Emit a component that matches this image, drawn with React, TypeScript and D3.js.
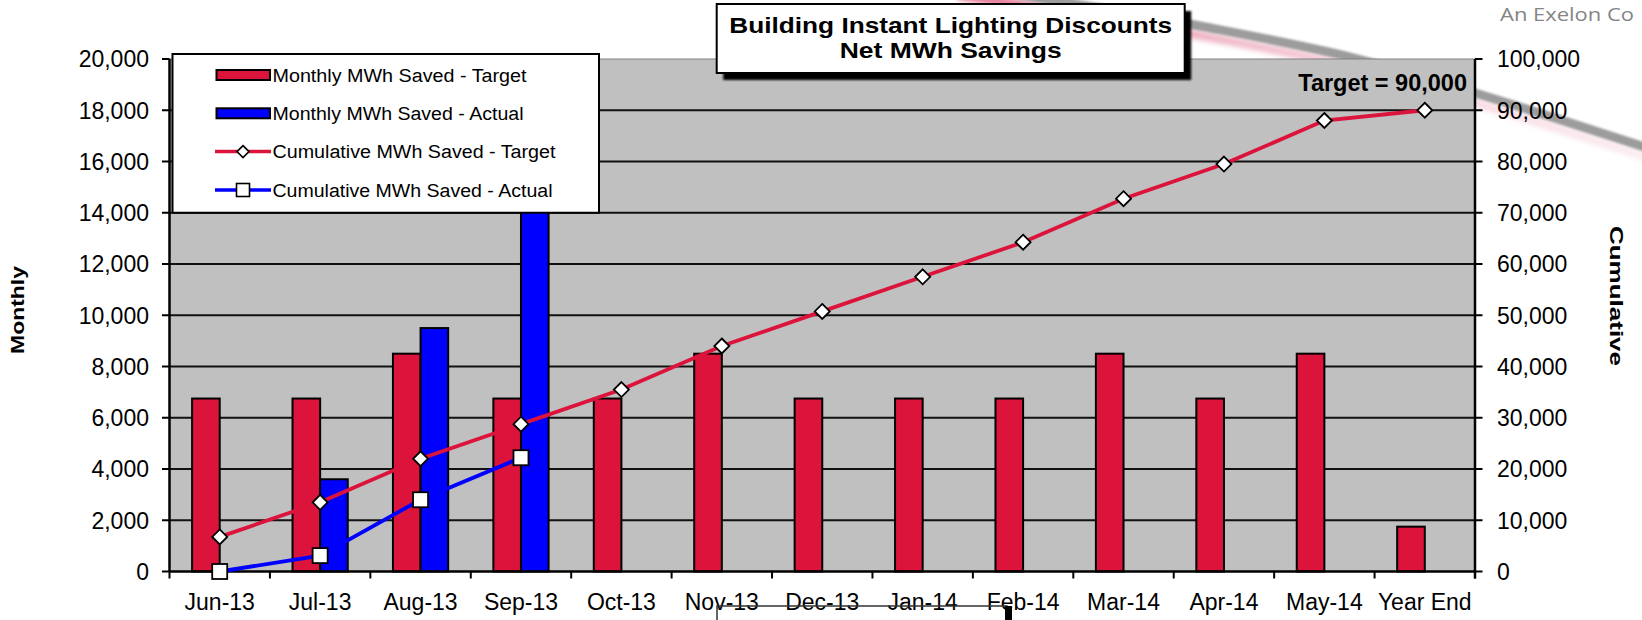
import React from 'react';
import * as d3 from 'd3';

const categories = ['Jun-13', 'Jul-13', 'Aug-13', 'Sep-13', 'Oct-13', 'Nov-13', 'Dec-13', 'Jan-14', 'Feb-14', 'Mar-14', 'Apr-14', 'May-14', 'Year End'];
const monthlyTarget = [6750, 6750, 8500, 6750, 6750, 8500, 6750, 6750, 6750, 8500, 6750, 8500, 1750];
const monthlyActual: (number | null)[] = [null, 3600, 9500, 16500, null, null, null, null, null, null, null, null, null];
const cumulativeTarget = [6750, 13500, 22000, 28750, 35500, 44000, 50750, 57500, 64250, 72750, 79500, 88000, 90000];
const cumulativeActual = [0, 3100, 14000, 22200];
const leftTicks = [0, 2000, 4000, 6000, 8000, 10000, 12000, 14000, 16000, 18000, 20000];
const rightTicks = [0, 10000, 20000, 30000, 40000, 50000, 60000, 70000, 80000, 90000, 100000];
const legendLabels = ['Monthly MWh Saved - Target', 'Monthly MWh Saved - Actual', 'Cumulative MWh Saved - Target', 'Cumulative MWh Saved - Actual'];
const legendWidths = [254, 251, 283, 280];
const titleLines = ['Building Instant Lighting Discounts', 'Net MWh Savings'];
const titleWidths = [443, 222];
const targetNote = 'Target = 90,000';

const FONT = "'Liberation Sans', Arial, Helvetica, sans-serif";
const RED = '#dc143c';
const BLUE = '#0000ff';

export default function App() {
  const W = 1642, H = 620;
  const left = 169.5, right = 1475, top = 59, bottom = 571.5;
  const x = d3.scaleBand<string>().domain(categories).range([left, right]);
  const bw = x.bandwidth();
  const groupW = bw * 0.55;
  const x1 = d3.scaleBand<string>().domain(['t', 'a']).range([(bw - groupW) / 2, (bw + groupW) / 2]);
  const yL = d3.scaleLinear().domain([0, 20000]).range([bottom, top]);
  const yR = d3.scaleLinear().domain([0, 100000]).range([bottom, top]);
  const cx = (i: number) => (x(categories[i]) as number) + bw / 2;

  const lineGen = d3.line<number>().x((_, i) => cx(i)).y((d) => yR(d));
  const fmt = d3.format(',');

  const swooshPts: [number, number][] = [[960, -14], [1100, 8], [1200, 26], [1350, 57], [1475, 93], [1660, 152]];
  const swoosh = d3.line().curve(d3.curveCatmullRom)(swooshPts) || '';
  const pinkPts: [number, number][] = swooshPts.map(([a, b]) => [a - 2, b + 9]);
  const pink = d3.line().curve(d3.curveCatmullRom)(pinkPts) || '';

  const boundaries = categories.map((c) => x(c) as number).concat([right]);

  const diamond = (px: number, py: number, r = 7.5) => `M${px},${py - r}L${px + r},${py}L${px},${py + r}L${px - r},${py}Z`;

  const legX = 172.5, legY = 54, legW = 426.5, legH = yL(14000) - 54;
  const rowY = [75, 113.3, 151.6, 190];

  return (
    <svg width={W} height={H} style={{ position: 'absolute', left: 0, top: 0, display: 'block', background: '#fff' }} fontFamily={FONT}>
      <defs>
        <filter id="blur1" x="-10%" y="-50%" width="120%" height="200%">
          <feGaussianBlur stdDeviation="1.2" />
        </filter>
        <filter id="blur2" x="-10%" y="-50%" width="120%" height="200%">
          <feGaussianBlur stdDeviation="2.5" />
        </filter>
        <linearGradient id="pinkGrad" x1="960" y1="0" x2="1642" y2="0" gradientUnits="userSpaceOnUse">
          <stop offset="0" stopColor="#e06080" stopOpacity="0.9" />
          <stop offset="0.4" stopColor="#e890a8" stopOpacity="0.6" />
          <stop offset="1" stopColor="#f4c8d4" stopOpacity="0.35" />
        </linearGradient>
      </defs>

      {/* background decoration */}
      <path d={pink} fill="none" stroke="url(#pinkGrad)" strokeWidth={9} filter="url(#blur2)" />
      <path d={swoosh} fill="none" stroke="#9c9c9c" strokeWidth={9} filter="url(#blur1)" />
      <text x={1500} y={21} fontFamily="'Open Sans', sans-serif" fontSize={18} textLength={134} lengthAdjust="spacingAndGlyphs" fill="#858585">An Exelon Co</text>

      {/* plot area */}
      <rect x={left} y={top} width={right - left} height={bottom - top} fill="#c0c0c0" />
      <line x1={left} x2={right} y1={top} y2={top} stroke="#808080" strokeWidth={1.2} />
      {leftTicks.filter((t) => t > 0 && t < 20000).map((t) => (
        <line key={'g' + t} x1={left} x2={right} y1={yL(t)} y2={yL(t)} stroke="#111" strokeWidth={2} />
      ))}

      {/* bars */}
      {monthlyTarget.map((v, i) => (
        <rect key={'bt' + i} x={(x(categories[i]) as number) + (x1('t') as number)} y={yL(v)} width={x1.bandwidth()} height={bottom - yL(v)} fill={RED} stroke="#000" strokeWidth={2} />
      ))}
      {monthlyActual.map((v, i) => v == null ? null : (
        <rect key={'ba' + i} x={(x(categories[i]) as number) + (x1('a') as number)} y={yL(v)} width={x1.bandwidth()} height={bottom - yL(v)} fill={BLUE} stroke="#000" strokeWidth={2} />
      ))}

      {/* axes */}
      <line x1={left} x2={left} y1={top} y2={bottom} stroke="#000" strokeWidth={2.5} />
      <line x1={right} x2={right} y1={top} y2={bottom + 7} stroke="#000" strokeWidth={2.5} />
      <line x1={left} x2={right} y1={bottom} y2={bottom} stroke="#000" strokeWidth={2.5} />
      {leftTicks.map((t) => (
        <g key={'lt' + t}>
          <line x1={left - 7.5} x2={left} y1={yL(t)} y2={yL(t)} stroke="#000" strokeWidth={2} />
          <text x={149} y={yL(t) + 8.3} textAnchor="end" fontSize={23} fill="#000">{fmt(t)}</text>
        </g>
      ))}
      {rightTicks.map((t) => (
        <g key={'rt' + t}>
          <line x1={right} x2={right + 7.5} y1={yR(t)} y2={yR(t)} stroke="#000" strokeWidth={2} />
          <text x={1497} y={yR(t) + 8.3} textAnchor="start" fontSize={23} fill="#000">{fmt(t)}</text>
        </g>
      ))}
      {boundaries.map((b, i) => (
        <line key={'bx' + i} x1={b} x2={b} y1={bottom} y2={bottom + 7} stroke="#000" strokeWidth={2} />
      ))}
      {categories.map((c, i) => (
        <text key={'xl' + c} x={cx(i)} y={610} textAnchor="middle" fontSize={23} fill="#000">{c}</text>
      ))}

      {/* lines */}
      <path d={lineGen(cumulativeTarget) || ''} fill="none" stroke={RED} strokeWidth={3.8} />
      <path d={lineGen(cumulativeActual) || ''} fill="none" stroke={BLUE} strokeWidth={3.8} />
      {cumulativeTarget.map((v, i) => (
        <path key={'md' + i} d={diamond(cx(i), yR(v))} fill="#fff" stroke="#000" strokeWidth={1.8} />
      ))}
      {cumulativeActual.map((v, i) => (
        <rect key={'ms' + i} x={cx(i) - 7.5} y={yR(v) - 7.5} width={15} height={15} fill="#fff" stroke="#000" strokeWidth={1.8} />
      ))}

      {/* legend */}
      <rect x={legX} y={legY} width={legW} height={legH} fill="#fff" stroke="#000" strokeWidth={2} />
      <rect x={216.5} y={rowY[0] - 5} width={53.5} height={10} fill={RED} stroke="#000" strokeWidth={2} />
      <rect x={216.5} y={rowY[1] - 5} width={53.5} height={10} fill={BLUE} stroke="#000" strokeWidth={2} />
      <line x1={215} x2={271} y1={rowY[2]} y2={rowY[2]} stroke={RED} strokeWidth={3.5} />
      <path d={diamond(243, rowY[2], 6)} fill="#fff" stroke="#000" strokeWidth={1.6} />
      <line x1={215} x2={271} y1={rowY[3]} y2={rowY[3]} stroke={BLUE} strokeWidth={3.5} />
      <rect x={243 - 6.5} y={rowY[3] - 6.5} width={13} height={13} fill="#fff" stroke="#000" strokeWidth={1.6} />
      {legendLabels.map((l, i) => (
        <text key={'lg' + i} x={272.5} y={rowY[i] + 6.5} fontSize={18} textLength={legendWidths[i]} lengthAdjust="spacingAndGlyphs" fill="#000">{l}</text>
      ))}

      {/* title box */}
      <rect x={716.7 + 6.5} y={4 + 7} width={468} height={69} fill="#000" filter="url(#blur1)" />
      <rect x={716.7} y={4} width={468} height={69} fill="#fff" stroke="#000" strokeWidth={2} />
      {titleLines.map((t, i) => (
        <text key={'tt' + i} x={716.7 + 234} y={i === 0 ? 32.5 : 58} textAnchor="middle" fontSize={22} fontWeight="bold" textLength={titleWidths[i]} lengthAdjust="spacingAndGlyphs" fill="#000">{t}</text>
      ))}

      <text x={1467} y={90.5} textAnchor="end" fontSize={23.5} fontWeight="bold" fill="#000">{targetNote}</text>

      {/* axis titles */}
      <text transform={`translate(24,310) rotate(-90)`} textAnchor="middle" fontSize={18.5} fontWeight="bold" textLength={88} lengthAdjust="spacingAndGlyphs" fill="#000">Monthly</text>
      <text transform={`translate(1610,296) rotate(90)`} textAnchor="middle" fontSize={18.5} fontWeight="bold" textLength={140} lengthAdjust="spacingAndGlyphs" fill="#000">Cumulative</text>

      {/* bottom slide element */}
      <path d="M717,622 L717,606 L1007,606 L1007,622" fill="none" stroke="#333" strokeWidth={1.5} />
      <rect x={1005} y={606} width={7} height={14} fill="#000" />
    </svg>
  );
}
